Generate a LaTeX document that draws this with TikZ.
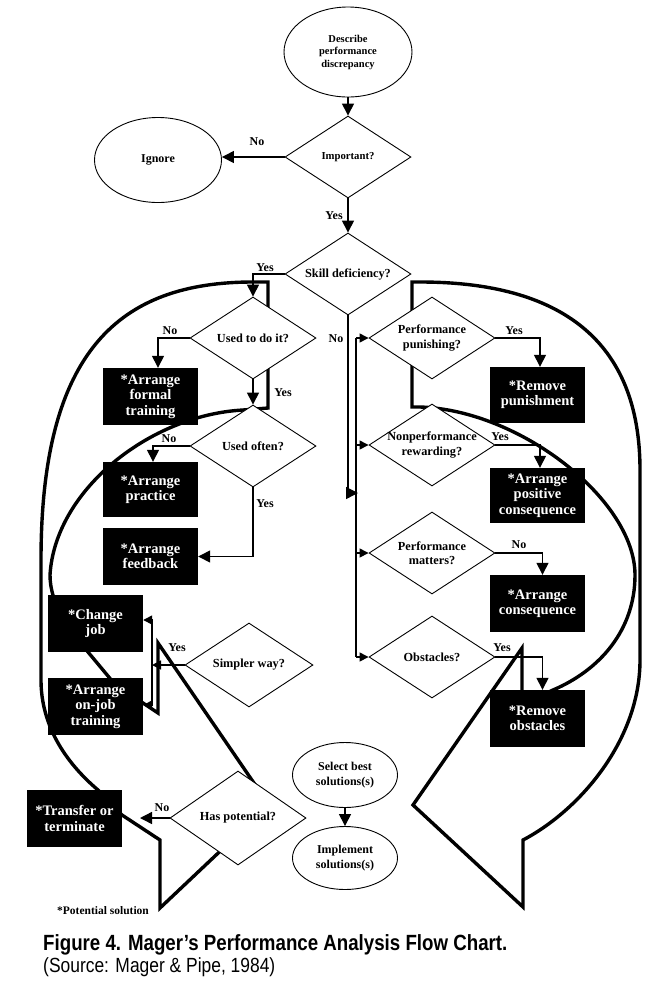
\documentclass[tikz,border=0pt]{standalone}
\usepackage{fontspec}
\setmainfont{Liberation Serif}
\newfontfamily\capfont[FakeStretch=0.85]{Liberation Sans}
\usetikzlibrary{shapes.geometric,arrows.meta}
\begin{document}
\begin{tikzpicture}[x=1pt,y=-1pt,
  conn/.style={line width=1.4pt},
  arr/.style={conn,-{Triangle[length=12pt,width=12pt]}},
  sarr/.style={conn,-{Triangle[length=9pt,width=9pt]}},
  big/.style={line width=3.4pt,line join=miter},
  dia/.style={diamond,draw,fill=white,line width=0.9pt,minimum width=126pt,minimum height=82pt,inner sep=0pt},
  dtxt/.style={inner sep=0pt,align=center,font=\fontsize{12.3}{14.5}\selectfont\bfseries},
  ell/.style={ellipse,draw,fill=white,line width=0.9pt,inner sep=0pt,align=center,font=\fontsize{12}{15}\selectfont\bfseries},
  sol/.style={rectangle,fill=black,text=white,minimum width=95pt,minimum height=56pt,inner sep=0pt,align=center,font=\fontsize{14.5}{15.5}\selectfont\bfseries},
  lbl/.style={font=\fontsize{12}{12}\selectfont\bfseries,inner sep=0pt}
]
\useasboundingbox (0,0) rectangle (657,997);
\fill[white] (0,0) rectangle (657,997);

% big curved block arrows
\draw[big] (268,408) -- (268,282) -- (253,282) .. controls (120,282) and (41,350) .. (41,560)
  -- (41,680) .. controls (41,725) and (65,762) .. (98,790) -- (122,815) -- (160,840) -- (160,908)
  -- (269,805) -- (158,643) -- (158,713) -- (143,703) -- (113,682) -- (88,652)
  .. controls (70,630) and (50,605) .. (50,575) .. controls (55,490) and (150,415) .. (243,410) -- cycle;
\draw[big] (412,407) -- (412,282) -- (420,282) .. controls (560,282) and (640,340) .. (640,470)
  -- (640,660) .. controls (640,740) and (580,810) .. (523,840) -- (523,907) -- (413,805)
  -- (522,648) -- (522,705) -- (553,690) .. controls (600,670) and (635,630) .. (635,575)
  .. controls (635,500) and (520,410) .. (420,407) -- cycle;

% nodes
\node[ell,minimum width=128pt,minimum height=90pt,font=\fontsize{10.5}{12.5}\selectfont\bfseries] (describe) at (348,52) {Describe\\performance\\discrepancy};
\node[dia] (important) at (348,157) {};
\node[dtxt,font=\fontsize{10.7}{12}\selectfont\bfseries] (importantt) at (important) {Important?};
\node[ell,minimum width=127pt,minimum height=85pt] (ignore) at (158,160) {Ignore};
\node[dia] (skill) at (348,274) {};
\node[dtxt] (skillt) at (skill) {Skill deficiency?};
\node[dia] (uti) at (253,338) {};
\node[dtxt] (utit) at (uti) {Used to do it?};
\node[dia] (uo) at (253,446) {};
\node[dtxt] (uot) at (uo) {Used often?};
\node[sol,minimum height=57pt] (ft) at (150.5,396.5) {*Arrange\\formal\\training};
\node[sol,minimum height=55pt] (pr) at (150.5,489.5) {*Arrange\\practice};
\node[sol,minimum height=57pt] (fb) at (150.5,556.5) {*Arrange\\feedback};
\node[sol,minimum height=57pt] (cj) at (95.5,623.5) {*Change\\job};
\node[sol,minimum height=57pt] (oj) at (95.5,706.5) {*Arrange\\on-job\\training};
\node[dia,minimum width=128pt,minimum height=84pt] (sw) at (249,665) {};
\node[dtxt] (swt) at (sw) {Simpler way?};
\node[dia,minimum width=136pt,minimum height=94pt] (hp) at (238,818) {};
\node[dtxt] (hpt) at (hp) {Has potential?};
\node[sol,minimum height=57pt] (tt) at (74.5,818.5) {*Transfer or\\terminate};
\node[ell,minimum width=105pt,minimum height=65pt] (sel) at (345,775) {Select best\\solutions(s)};
\node[ell,minimum width=105pt,minimum height=63pt] (imp) at (345,858) {Implement\\solutions(s)};
\node[dia] (pp) at (432,338) {};
\node[dtxt] (ppt) at (pp) {Performance\\punishing?};
\node[sol] (rp) at (537.5,395) {*Remove\\punishment};
\node[dia] (nr) at (432,445) {};
\node[dtxt] (nrt) at (nr) {Nonperformance\\rewarding?};
\node[sol,minimum height=55pt] (pc) at (537.5,495.5) {*Arrange\\positive\\consequence};
\node[dia] (pm) at (432,553) {};
\node[dtxt] (pmt) at (pm) {Performance\\matters?};
\node[sol,minimum height=57pt] (ac) at (537.5,603.5) {*Arrange\\consequence};
\node[dia] (ob) at (432,657) {};
\node[dtxt] (obt) at (ob) {Obstacles?};
\node[sol,minimum height=57pt] (ro) at (537.5,718.5) {*Remove\\obstacles};

% connectors
\draw[arr] (describe.south) -- (important.north);
\draw[arr] (important.west) -- (important.west -| ignore.east);
\draw[arr] (important.south) -- (skill.north);
\draw[arr] (skill.west) -| (uti.north);
\draw[arr] (uti.west) -| ([xshift=7.5pt]ft.north);
\draw[arr] (uti.south) -- (uo.north);
\draw[arr] (uo.west) -| ([xshift=2.5pt]pr.north);
\draw[arr] (uo.south) |- (fb.east);

\coordinate (nbe) at (358,493);
\draw[arr] (skill.south) |- (nbe);
\coordinate (b1) at (356,338);
\coordinate (b2) at (356,445);
\coordinate (b3) at (356,553);
\coordinate (b4) at (356,657);
\draw[conn] (b1) -- (b4);
\draw[sarr] (b1) -- (pp.west);
\draw[sarr] (b2) -- (nr.west);
\draw[sarr] (b3) -- (pm.west);
\draw[sarr] (b4) -- (ob.west);

\draw[arr] (pp.east) -| ([xshift=2.5pt]rp.north);
\draw[arr] (nr.east) -| ([xshift=2.5pt]pc.north);
\draw[arr] (pm.east) -| ([xshift=5pt]ac.north);
\draw[arr] (ob.east) -| ([xshift=5pt]ro.north);

\coordinate (sy) at (152,665);
\coordinate (c1) at (152,620);
\coordinate (c2) at (152,705);
\draw[sarr] (sw.west) -- (sy);
\draw[conn] (c1) -- (c2);
\draw[sarr] (c1) -- (c1 -| cj.east);
\draw[sarr] (c2) -- (c2 -| oj.east);

\coordinate (hpn) at (140,818);
\draw[arr] (hp.west) -- (hpn);
\draw[arr] (sel.south) -- (imp.north);

% labels
\node[lbl] (l1) at (257,142) {No};
\node[lbl] (l2) at (334,216) {Yes};
\node[lbl] (l3) at (265,268) {Yes};
\node[lbl] (l4) at (170,331) {No};
\node[lbl] (l5) at (283,393) {Yes};
\node[lbl] (l6) at (169,439) {No};
\node[lbl] (l7) at (265,504) {Yes};
\node[lbl] (l8) at (177,648) {Yes};
\node[lbl] (l9) at (162,808) {No};
\node[lbl] (l10) at (336,339) {No};
\node[lbl] (l11) at (514,331) {Yes};
\node[lbl] (l12) at (500,437) {Yes};
\node[lbl] (l13) at (519,545) {No};
\node[lbl] (l14) at (502,648) {Yes};
\node[lbl,font=\fontsize{11.5}{11.5}\selectfont\bfseries] (ps) at (103,911) {*Potential solution};

\node[anchor=base west,inner sep=0pt,font=\capfont\bfseries\fontsize{22}{22}\selectfont] (cap1) at (43,950) {Figure 4. Mager’s Performance Analysis Flow Chart.};
\node[anchor=base west,inner sep=0pt,font=\capfont\fontsize{20.5}{20.5}\selectfont] (cap2) at (43,972) {(Source: Mager \& Pipe, 1984)};
\end{tikzpicture}
\end{document}
